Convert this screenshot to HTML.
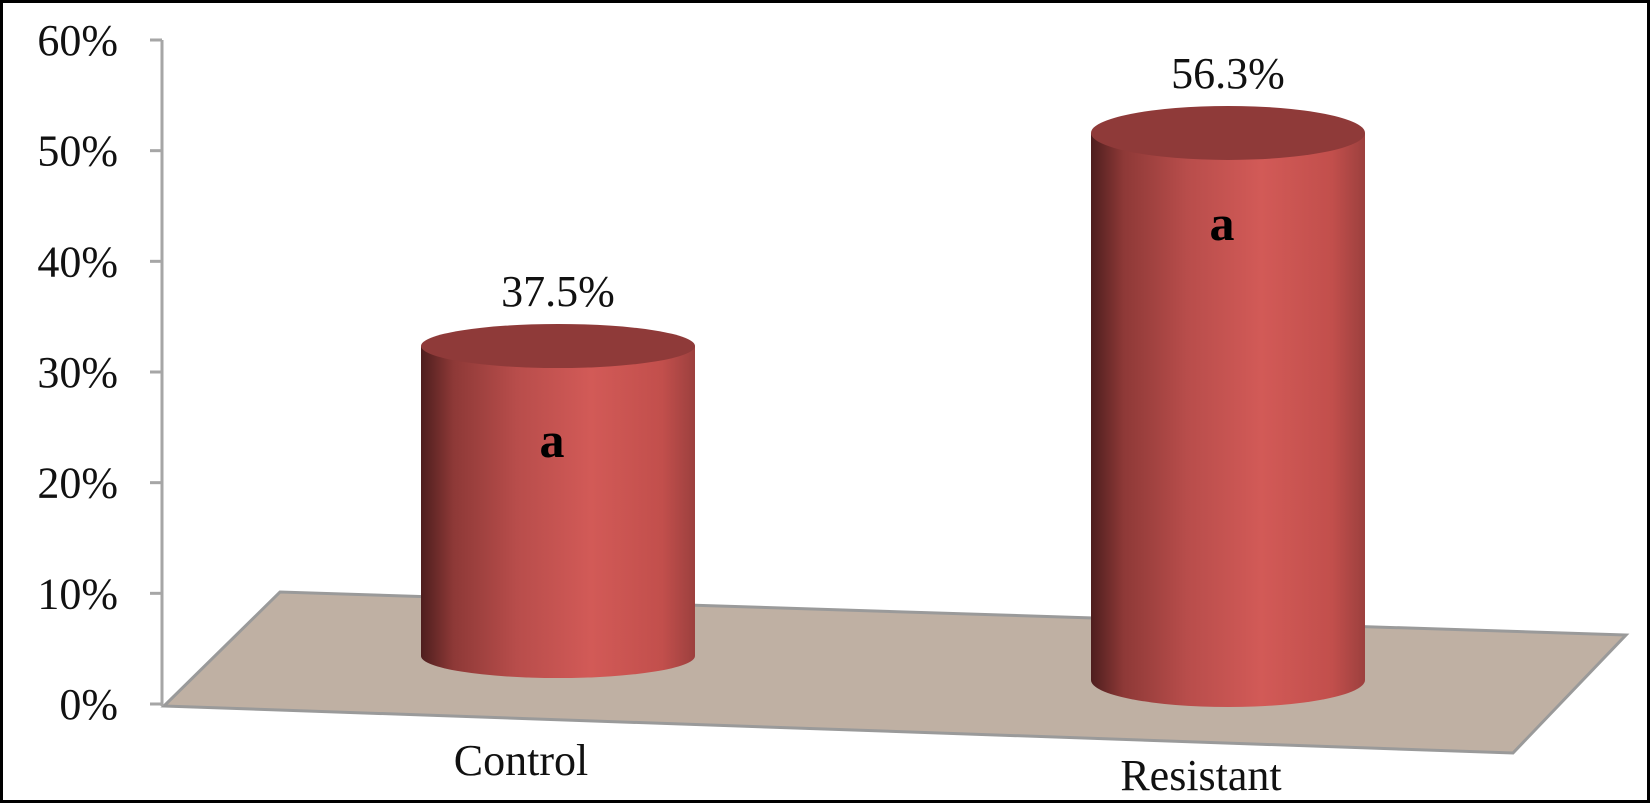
<!DOCTYPE html>
<html><head><meta charset="utf-8"><style>
html,body{margin:0;padding:0;background:#fff}
svg{display:block}
text{font-family:"Liberation Serif",serif}
</style></head><body>
<svg width="1650" height="803" viewBox="0 0 1650 803">
<defs>
<linearGradient id="cyl" x1="0" x2="1" y1="0" y2="0">
<stop offset="0" stop-color="#4e1e1e"/>
<stop offset="0.12" stop-color="#8e3937"/>
<stop offset="0.35" stop-color="#b84d4b"/>
<stop offset="0.62" stop-color="#d25a57"/>
<stop offset="0.88" stop-color="#c24f4c"/>
<stop offset="1" stop-color="#9c403e"/>
</linearGradient>
</defs>
<rect x="1.5" y="1.5" width="1647" height="800" fill="#fff" stroke="#000" stroke-width="3"/>
<polygon points="164,706 280,592 1626,635 1513,753" fill="#bfb0a3" stroke="#9a9a9a" stroke-width="3"/>
<line x1="162" y1="40" x2="162" y2="706" stroke="#a6a6a6" stroke-width="3"/>
<g id="ticks"></g>
<g id="bars"></g>
</svg>
<script>
const categories = ["Control", "Resistant"];
const values = [37.5, 56.3];
const valueLabels = ["37.5%", "56.3%"];
const letters = ["a", "a"];
const tickValues = [0, 10, 20, 30, 40, 50, 60];
const tickLabels = ["0%", "10%", "20%", "30%", "40%", "50%", "60%"];

const NS = "http://www.w3.org/2000/svg";
function y(v){ return 704 - v * (664 / 60); }
function mk(tag, attrs, parent){
  const e = document.createElementNS(NS, tag);
  for (const k in attrs) e.setAttribute(k, attrs[k]);
  parent.appendChild(e); return e;
}
const ticks = document.getElementById("ticks");
tickValues.forEach((t, i) => {
  const ln = mk("line", {x1:150, x2:162, y1:y(t), y2:y(t), stroke:"#a6a6a6", "stroke-width":3}, ticks);
  
  
  const tx = mk("text", {x:118, y:y(t)+15, "text-anchor":"end", "font-size":44, fill:"#111"}, ticks);
  tx.textContent = tickLabels[i];
  
  
});

// geometry per bar (layout, not data)
const cx = [558, 1228], rx = [137, 137], ry = [22, 27], baseY = [656, 680], depth = [57, 52];
const catLabelY = [775, 790], valueLabelY = [306, 88], letterY = [457, 240];
const bars = document.getElementById("bars");
categories.forEach((c, i) => {
  const g = mk("g", {}, bars);
  
  
  const top = y(values[i]) + depth[i];
  const b = baseY[i], x0 = cx[i] - rx[i], x1 = cx[i] + rx[i];
  const body = mk("path", {d:`M${x0},${top} L${x0},${b} A${rx[i]},${ry[i]} 0 0 0 ${x1},${b} L${x1},${top} Z`, fill:"url(#cyl)"}, g);
  
  
  const cap = mk("ellipse", {cx:cx[i], cy:top, rx:rx[i], ry:ry[i], fill:"#8f3a39"}, g);
  
  
  const vl = mk("text", {x:cx[i], y:valueLabelY[i], "text-anchor":"middle", "font-size":44, fill:"#111"}, g);
  vl.textContent = valueLabels[i];
  
  
  const lt = mk("text", {x:cx[i]-6, y:letterY[i], "text-anchor":"middle", "font-size":50, "font-weight":"bold", fill:"#000"}, g);
  lt.textContent = letters[i];
  
  
  const cl = mk("text", {x:cx[i]-37+ (i?10:0), y:catLabelY[i], "text-anchor":"middle", "font-size":44, fill:"#111"}, g);
  cl.textContent = c;
  
  
});
</script>
</body></html>
